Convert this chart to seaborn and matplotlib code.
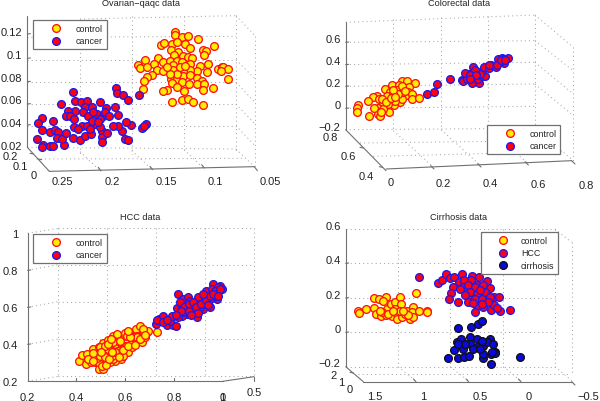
import matplotlib
matplotlib.use("Agg")
import matplotlib.pyplot as plt
import matplotlib.transforms as mt
import seaborn as sns
import pandas as pd

sns.set_style("white")
plt.rcParams['font.family'] = ['Liberation Sans', 'DejaVu Sans']

ov_control_x = [.128,.128,.1215,.1157,.106,.1416,.1387,.1312,.1264,.1183,.1134,.1005,.098,.0898,.0995,.1319,.1248,.129,.1199,.115,.1118,.1571,.1448,.1484,.1393,.1643,.162,.1555,.1329,.1264,.1296,.1215,.1134,.1037,.0956,.0866,.0827,.0811,.0762,.0837,.0973,.107,.1134,.1199,.1264,.1296,.1452,.14,.15,.1555,.1578,.1322,.1264,.1206,.1134,.107,.1021,.1215,.1312,.1144,.107,.0999,.0915,.0769,.1005,.1193,.1264,.1361,.1393,.1588,.1312,.1215,.1151,.1102,.1005,.1264,.1329,.1232,.1183,.1361]
ov_control_y = [.122,.119,.117,.118,.1156,.1106,.112,.1112,.1127,.1112,.1074,.1059,.1053,.1092,.1018,.1062,.1044,.1015,.1003,.0994,.0986,.0974,.0989,.0939,.095,.093,.0897,.0909,.0965,.0965,.0927,.095,.0936,.0921,.0936,.0889,.0912,.0906,.0892,.0877,.0862,.0877,.0883,.0877,.0877,.0886,.088,.0877,.0839,.0818,.0789,.0803,.0803,.0833,.0839,.0812,.0789,.0774,.0768,.0756,.0759,.0756,.0727,.0803,.0706,.07,.073,.0703,.0698,.0715,.0598,.0618,.0627,.0603,.0574,.0847,.0847,.0906,.0921,.0906]
ov_cancer_x = [.2267,.2387,.2251,.2193,.2131,.2008,.1853,.1846,.1782,.1733,.1626,.2251,.2154,.2089,.195,.1863,.2316,.2341,.2299,.2261,.2461,.2574,.2607,.2574,.2623,.2565,.2574,.2494,.2468,.2354,.2494,.2445,.2413,.2422,.238,.2338,.2274,.2202,.2154,.2099,.1992,.1992,.1937,.1992,.1766,.1733,.1791,.183,.1885,.1711,.1759,.1604,.1565,.1581,.2261,.2186,.2131,.2057,.2008,.2105,.217,.2121,.2089,.2041,.1976,.196,.1918,.183,.2008,.2219,.2073,.2024]
ov_cancer_y = [.0686,.0583,.0606,.0598,.0612,.0598,.0721,.0677,.0665,.0615,.0665,.0524,.0553,.0553,.0545,.0553,.0524,.048,.048,.0451,.0436,.0456,.0412,.0357,.0274,.0224,.0201,.0215,.021,.0221,.0339,.0357,.0333,.028,.0274,.0324,.0286,.0265,.0298,.0318,.0348,.0289,.0324,.0245,.0274,.0262,.0348,.0392,.0392,.0401,.0427,.0374,.0406,.0392,.0383,.0392,.0392,.0406,.0377,.0362,.0509,.0474,.0436,.0495,.048,.0515,.048,.0486,.0451,.0362,.0509,.0427]

co_control_x = [.067,.091,.123,.024,.057,-.004,.017,.045,.074,.099,.095,-.04,-.054,-.028,-.075,.006,.038,.06,.085,.113,.109,.142,.06,.034,.01,-.011,-.033,-.118,-.122,-.125,-.072,-.033,-.026,.014,-.011,.067,.038,.074,-.018,.052,.03,.03,.07,.08,0,.02,-.05,-.02,.04]
co_control_y = [.253,.25,.229,.214,.214,.174,.153,.171,.192,.192,.153,.116,.101,.085,.07,.11,.101,.116,.122,.128,.085,.095,.055,.031,.04,.04,0,.034,.003,-.031,-.067,-.052,-.073,-.037,-.006,.085,.07,.147,.085,.131,.13,.17,.2,.16,.06,.09,0,-.03,.1]
co_cancer_x = [.173,.206,.218,.275,.326,.329,.34,.35,.372,.369,.374,.365,.348,.369,.396,.393,.411,.421,.411,.418,.438,.45,.471,.478,.496,.519,.504,.485,.474,.499,.4,.382,.339,.36,.385,.44,.49,.51,.36]
co_cancer_y = [.131,.147,.223,.266,.26,.244,.293,.315,.373,.324,.269,.293,.269,.229,.229,.269,.293,.29,.342,.373,.366,.397,.379,.452,.458,.461,.415,.421,.391,.452,.315,.345,.321,.3,.3,.39,.44,.44,.27]

hcc_control_x = [.4105,.424,.439,.445,.458,.469,.487,.476,.493,.51,.494,.508,.531,.551,.555,.581,.606,.592,.617,.644,.661,.688,.695,.672,.729,.581,.558,.538,.51,.524,.503,.538,.565,.586,.613,.565,.544,.51,.49,.531,.599,.627,.647,.668,.647,.627,.497,.558,.517,.579,.469,.572,.6,.681,.503,.551,.524,.483,.449,.674,.497,.544,.572,.592,.551,.627,.517,.469,.606,.565,.52,.535,.56,.59,.61,.64,.65,.66,.62,.58,.53,.5,.47,.575,.545,.68,.61,.54]
hcc_control_y = [.308,.344,.294,.348,.306,.375,.348,.303,.267,.267,.387,.407,.425,.447,.42,.443,.42,.443,.459,.483,.497,.465,.474,.456,.465,.321,.308,.303,.294,.339,.321,.348,.348,.384,.36,.393,.384,.357,.303,.375,.393,.411,.42,.411,.447,.438,.384,.402,.393,.411,.33,.429,.46,.438,.285,.321,.312,.324,.321,.483,.339,.339,.366,.339,.411,.384,.33,.353,.447,.456,.29,.32,.36,.37,.39,.395,.44,.43,.44,.42,.4,.36,.31,.33,.36,.45,.47,.43]
hcc_cancer_x = [.727,.74,.756,.729,.77,.797,.756,.784,.807,.791,.811,.818,.838,.859,.832,.852,.879,.893,.852,.832,.866,.893,.914,.934,.931,.961,.989,.996,.969,.975,.948,.92,.955,.941,.907,.873,.838,.818,.961,.92,.982,.825,.9,.941,.982,.948,.84,.86,.88,.86,.89,.91,.93,.95,.97,.99,.96,.83,.81,.77,.9,.87,.94,.98,.92]
hcc_cancer_y = [.51,.537,.551,.533,.504,.504,.519,.528,.501,.555,.595,.672,.645,.654,.609,.609,.591,.549,.564,.555,.636,.627,.645,.672,.69,.726,.713,.699,.672,.645,.6,.591,.699,.627,.6,.609,.573,.546,.654,.618,.69,.627,.654,.654,.708,.645,.6,.62,.63,.58,.6,.62,.64,.66,.69,.7,.67,.58,.56,.53,.57,.56,.61,.66,.67]

ci_control_x = [1.547,1.541,1.474,1.398,1.347,1.284,1.398,1.379,1.331,1.271,1.284,1.239,1.198,1.151,1.144,1.23,1.182,1.182,1.135,1.087,1.03,1.039,1.055,1.023,.966,.896,.89,.998,1.309,1.325,1.262,1.198,1.151,1.103,1.071,1.341,1.214,1.119]
ci_control_y = [.126,.113,.134,.198,.194,.204,.142,.105,.097,.136,.101,.165,.179,.204,.165,.097,.107,.078,.087,.126,.146,.117,.078,.087,.122,.126,.12,.227,.184,.117,.107,.136,.126,.107,.101,.126,.126,.126]
ci_hcc_x = [.966,.792,.747,.712,.674,.633,.557,.468,.398,.325,.585,.541,.474,.42,.649,.668,.684,.595,.547,.5,.436,.357,.293,.5,.42,.341,.252,.208,.5,.436,.373,.293,.42,.357,.287,.198,.103,.252,.436,.309,.484,.388,.579,.531,.373,.452,.23]
ci_hcc_y = [.324,.287,.301,.338,.318,.32,.336,.326,.32,.299,.291,.301,.301,.276,.262,.229,.194,.175,.262,.276,.262,.272,.256,.204,.223,.233,.208,.204,.175,.194,.194,.204,.155,.146,.13,.126,.13,.161,.117,.175,.233,.243,.252,.214,.165,.171,.142]
ci_cirr_x = [.601,.477,.404,.373,.69,.601,.538,.49,.357,.284,.007,.284,.246,.633,.611,.57,.547,.484,.42,.484,.42,.357,.357,.293,.325,.261,.373,.531,.452,.595,.388,.246,.277]
ci_cirr_y = [.025,.033,.049,.064,-.148,-.151,-.142,-.14,-.15,-.181,-.146,-.126,-.117,-.101,-.058,-.039,-.097,-.029,-.039,-.068,-.087,-.078,-.126,-.039,-.058,-.068,-.049,-.068,-.097,-.068,-.097,-.12,-.117]

YR = dict(face='#ffee00', edge='#ff1010')
RB = dict(face='#ff0010', edge='#1a1aee')
BK = dict(face='#0a0ae0', edge='#101010')
SOLID = '#707070'
DOT = '#a8a8a8'
FS = 8.0

fig = plt.figure(figsize=(6.0, 4.02), dpi=100)
FW, FH = 600.0, 402.0


def make_panel(ox, oy, rect, xcal, ycal, title, tpos, xt, yt, series, legpos, depth, solid, dotted, hl=4.2):
    L, T, R, B = rect
    pix = mt.Affine2D().scale(1/3, -1/3).translate(ox, FH - oy)
    ax = fig.add_axes([(ox + L/3)/FW, (FH - oy - B/3)/FH, (R-L)/3/FW, (B-T)/3/FH])
    v0, z0, v1, z1 = xcal
    sx = (v1 - v0)/(z1 - z0)
    xlim = (v0 + (L - z0)*sx, v0 + (R - z0)*sx)
    v0, z0, v1, z1 = ycal
    sy = (v1 - v0)/(z1 - z0)
    ylim = (v0 + (B - z0)*sy, v0 + (T - z0)*sy)

    for (label, xs, ys, st) in series:
        df = pd.DataFrame({'x': xs, 'y': ys})
        sns.scatterplot(data=df, x='x', y='y', ax=ax, s=31, color=st['face'], edgecolor=st['edge'],
                        linewidth=0.95, label=label, clip_on=False, zorder=3)
    ax.set_xlim(xlim); ax.set_ylim(ylim)
    ax.set_xlabel(''); ax.set_ylabel('')
    ax.patch.set_alpha(0)
    for s in ax.spines.values():
        s.set_visible(False)

    xticks, xlabels, xdx, xdy = xt
    ax.set_xticks(xticks, xlabels)
    ax.tick_params(axis='x', length=0, pad=0, labelsize=FS, labelcolor='#222222')
    for lab, dx, dy in zip(ax.get_xticklabels(), xdx, xdy):
        lab.set_verticalalignment('center')
        lab.set_transform(lab.get_transform() + mt.Affine2D().translate(dx/3, -dy/3))
    yticks, ylabels, ypad, ydy = yt
    ax.set_yticks(yticks, ylabels)
    ax.tick_params(axis='y', length=0, pad=ypad, labelsize=FS, labelcolor='#222222')
    for lab in ax.get_yticklabels():
        lab.set_transform(lab.get_transform() + mt.Affine2D().translate(0, -ydy/3))

    ax.set_title(title, x=(tpos[0]-L)/(R-L), y=(B-tpos[1])/(B-T), va='center', fontsize=6.6, color='#222222', pad=0)

    for seg in solid:
        ax.plot(seg[0::2], seg[1::2], color=SOLID, lw=0.8, transform=pix, clip_on=False, zorder=2)
    for seg in dotted:
        ax.plot(seg[0::2], seg[1::2], color=DOT, lw=0.75, ls=(0, (1, 3)), transform=pix, clip_on=False, zorder=1)
    for (tx, ty, s) in depth:
        ax.text(tx, ty, s, transform=pix, fontsize=FS, ha='center', va='center', color='#222222')

    leg = ax.legend(loc='upper left', bbox_to_anchor=legpos, bbox_transform=pix, borderaxespad=0,
                    fontsize=6.4, frameon=True, fancybox=False, framealpha=1, edgecolor='#707070',
                    handletextpad=0.1, handlelength=hl, labelspacing=0.4, borderpad=0.45)
    leg.get_frame().set_linewidth(0.9)
    leg.set_zorder(5)
    for t in leg.get_texts():
        t.set_color('#222222')
    return ax


def left_ticks(x, ys):
    return [(x, y, x + 9, y - 1) for y in ys]


make_panel(0, 0, (82, 50, 770, 518), (0.25, 148, 0.05, 766), (0.02, 445, 0.12, 105),
    'Ovarian\u2212qaqc data', (422, 12),
    ([.25, .2, .15, .1, .05], ['0.25', '0.2', '0.15', '0.1', '0.05'], [39, 35, 42, 35, 45], [28]*5),
    ([.02, .04, .06, .08, .1, .12], ['0.02', '0.04', '0.06', '0.08', '0.1', '0.12'], 4, -8),
    [('control', ov_control_x, ov_control_y, YR), ('cancer', ov_cancer_x, ov_cancer_y, RB)],
    (100, 62), [(30, 470, '0.2'), (60, 500, '0.1'), (102, 528, '0')],
    [(82, 50, 82, 445), (82, 445, 148, 517), (148, 517, 763, 503), (763, 503, 772, 515),
     (295, 505, 303, 516), (450, 502, 458, 512), (605, 497, 613, 507), (125, 482, 115, 480), (100, 465, 90, 463)]
    + left_ticks(82, [378, 315, 248, 178, 105]),
    [(240, 60, 240, 470), (395, 50, 395, 465), (552, 50, 552, 462), (708, 50, 708, 460), (765, 110, 765, 503), (708, 50, 765, 110),
     (82, 115, 708, 112), (82, 182, 708, 182), (82, 250, 708, 250), (82, 315, 708, 315), (82, 380, 708, 380), (82, 445, 708, 450),
     (110, 480, 735, 478), (708, 450, 763, 503), (552, 452, 610, 507), (395, 455, 455, 510), (240, 458, 300, 515),
     (240, 60, 708, 50), (708, 182, 765, 240), (708, 250, 765, 310), (708, 315, 765, 375), (708, 380, 765, 440)])

make_panel(300, 0, (137, 70, 825, 515), (0, 258, 0.8, 820), (0, 328, 0.6, 130),
    'Colorectal data', (476, 12),
    ([0, .2, .4, .6, .8], ['0', '0.2', '0.4', '0.6', '0.8'], [15, 30, 33, 35, 38], [33, 36, 38, 40, 43]),
    ([-.2, 0, .2, .4, .6], ['\u22120.2', '0', '0.2', '0.4', '0.6'], 3.6, -13),
    [('control', co_control_x, co_control_y, YR), ('cancer', co_cancer_x, co_cancer_y, RB)],
    (561, 377), [(90, 413, '0.8'), (146, 472, '0.6'), (200, 530, '0.4')],
    [(137, 70, 137, 392), (137, 392, 258, 515), (258, 510, 815, 485), (815, 485, 825, 495),
     (392, 500, 402, 510), (533, 494, 543, 504), (675, 488, 685, 498), (190, 447, 180, 445), (248, 505, 238, 503)]
    + left_ticks(137, [130, 197, 262, 328]),
    [(280, 60, 280, 395), (423, 55, 423, 392), (565, 52, 565, 390), (705, 48, 705, 388), (820, 145, 820, 485), (705, 48, 820, 145),
     (137, 130, 705, 125), (137, 197, 705, 190), (137, 262, 705, 255), (137, 328, 705, 322), (137, 392, 705, 388),
     (180, 432, 765, 425), (220, 472, 790, 458), (280, 395, 400, 505), (423, 392, 540, 498), (565, 390, 680, 490), (705, 388, 820, 485),
     (137, 70, 705, 48), (705, 125, 820, 215), (705, 190, 820, 285), (705, 255, 820, 350)])

make_panel(0, 200, (83, 103, 765, 547), (0.2, 83, 1.0, 668), (0.2, 547, 1.0, 103),
    'HCC data', (421, 53),
    ([.2, .4, .6, .8, 1.0], ['0.2', '0.4', '0.6', '0.8', '1'], [0]*5, [48]*5),
    ([.2, .4, .6, .8, 1.0], ['0.2', '0.4', '0.6', '0.8', '1'], 6.7, 0),
    [('control', hcc_control_x, hcc_control_y, YR), ('cancer', hcc_cancer_x, hcc_cancer_y, RB)],
    (100, 104), [(668, 595, '0'), (762, 580, '0.5')],
    [(83, 103, 83, 547), (83, 547, 668, 547), (668, 547, 762, 533), (762, 533, 762, 545),
     (229, 547, 229, 538), (376, 547, 376, 538), (522, 547, 522, 538)]
    + left_ticks(83, [214, 325, 436]),
    [(175, 88, 175, 532), (322, 88, 322, 532), (468, 88, 468, 532), (615, 88, 615, 532), (762, 88, 762, 532),
     (83, 103, 175, 88), (175, 88, 762, 88), (83, 214, 175, 197), (175, 197, 762, 197), (83, 325, 175, 308), (175, 308, 762, 308),
     (83, 436, 175, 420), (175, 420, 762, 420), (83, 547, 175, 532), (175, 532, 762, 532)])

make_panel(300, 200, (137, 90, 825, 548), (1.5, 190, -0.5, 820), (0, 400, 0.6, 90),
    'Cirrhosis data', (476, 53),
    ([1.5, 1, .5, 0, -.5], ['1.5', '1', '0.5', '0', '\u22120.5'], [35, 23, 35, 23, 45], [42]*5),
    ([-.2, 0, .2, .4, .6], ['\u22120.2', '0', '0.2', '0.4', '0.6'], 3.6, -13),
    [('control', ci_control_x, ci_control_y, YR), ('HCC', ci_hcc_x, ci_hcc_y, RB), ('cirrhosis', ci_cirr_x, ci_cirr_y, BK)],
    (544, 98), [(102, 527, '2'), (125, 548, '1'), (148, 570, '0')],
    [(137, 90, 137, 503), (137, 503, 190, 548), (190, 548, 815, 548), (815, 548, 825, 558),
     (340, 540, 348, 548), (498, 540, 506, 548), (655, 540, 663, 548), (160, 522, 150, 520)]
    + left_ticks(137, [193, 297, 400]),
    [(295, 90, 295, 503), (450, 90, 450, 503), (610, 90, 610, 503), (765, 90, 765, 503), (815, 130, 815, 525),
     (137, 90, 765, 90), (137, 193, 765, 193), (137, 297, 765, 297), (137, 400, 765, 400), (137, 503, 765, 503),
     (175, 525, 810, 525), (765, 90, 815, 130), (765, 503, 815, 545), (610, 503, 662, 545), (450, 503, 505, 545), (295, 503, 345, 545)],
    hl=3.9)

fig.savefig('out.png', dpi=100)
